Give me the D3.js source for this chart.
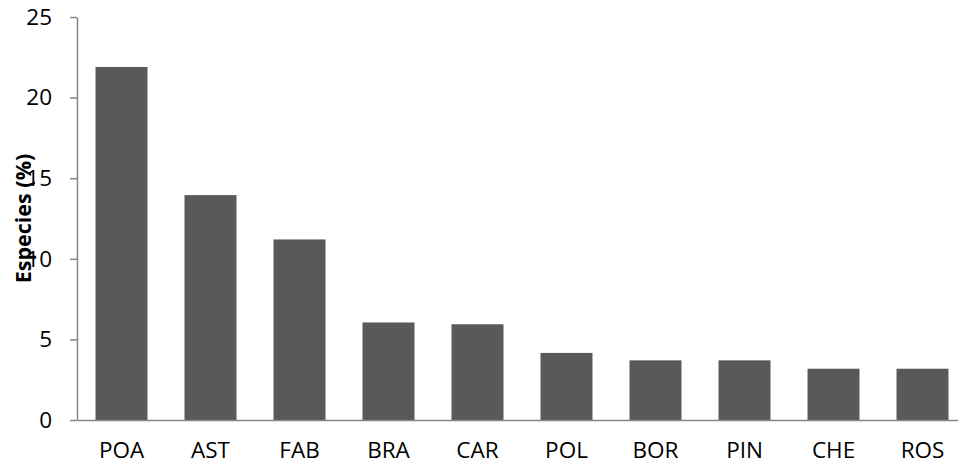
<!DOCTYPE html>
<html>
<head>
<meta charset="utf-8">
<script src="https://cdn.jsdelivr.net/npm/d3@7"></script>
<style>
  html, body { margin: 0; padding: 0; background: #fff; }
  svg { display: block; }
  text { font-family: "Open Sans", "Noto Sans", sans-serif; fill: #000; }
</style>
</head>
<body>
<svg id="chart" width="958" height="468"></svg>
<script>
// Families of plants and their share of species (%)
const families = ["POA", "AST", "FAB", "BRA", "CAR", "POL", "BOR", "PIN", "CHE", "ROS"];
const speciesPct = [21.9, 13.95, 11.2, 6.05, 5.94, 4.16, 3.7, 3.7, 3.18, 3.18];
const yTicks = [0, 5, 10, 15, 20, 25];
const yTitle = "Especies (%)";

const svg = d3.select("#chart");
const plotLeft = 77, plotRight = 967, plotTop = 17, plotBottom = 420;

const x = d3.scaleBand()
  .domain(families)
  .range([plotLeft, plotRight])
  .paddingInner(0.416)
  .paddingOuter(0.208);

const y = d3.scaleLinear()
  .domain([0, 25])
  .range([plotBottom, plotTop]);

// bars
svg.append("g")
  .selectAll("rect")
  .data(families)
  .join("rect")
  .attr("x", d => x(d))
  .attr("width", x.bandwidth())
  .attr("y", (d, i) => y(speciesPct[i]))
  .attr("height", (d, i) => plotBottom - y(speciesPct[i]))
  .attr("fill", "#595959");

// y axis
const yAxis = svg.append("g")
  .attr("transform", `translate(${plotLeft},0)`)
  .call(d3.axisLeft(y).tickValues(yTicks).tickSize(7).tickPadding(18).tickSizeOuter(0));
yAxis.select(".domain").attr("stroke", "#868686").attr("stroke-width", 1.5);
yAxis.selectAll(".tick line").attr("stroke", "#868686").attr("stroke-width", 1.5);
yAxis.selectAll(".tick text")
  .style("font-size", "22.5px")
  .style("font-family", "'Open Sans', sans-serif")
  .attr("fill", "#000");

// x axis
const xAxis = svg.append("g")
  .attr("transform", `translate(0,${plotBottom})`)
  .call(d3.axisBottom(x).tickSize(0).tickPadding(22).tickSizeOuter(0));
xAxis.select(".domain").attr("stroke", "#868686").attr("stroke-width", 1.5);
xAxis.selectAll(".tick text")
  .style("font-size", "22.5px")
  .style("font-family", "'Open Sans', sans-serif")
  .attr("fill", "#000");

// y title
svg.append("text")
  .attr("transform", `translate(31,${(plotTop + plotBottom) / 2}) rotate(-90)`)
  .attr("text-anchor", "middle")
  .style("font-size", "21.5px")
  .style("font-weight", "bold")
  .text(yTitle);
</script>
</body>
</html>
